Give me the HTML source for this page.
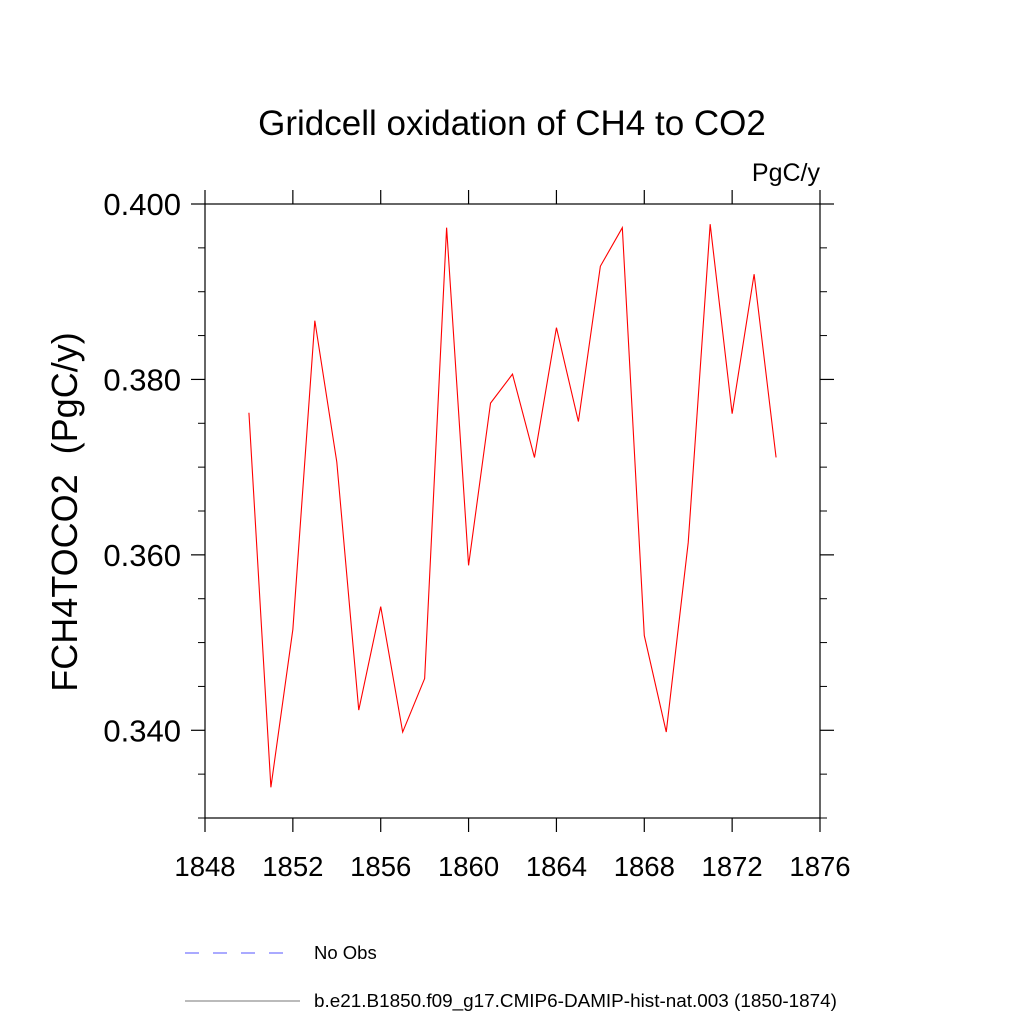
<!DOCTYPE html>
<html><head><meta charset="utf-8"><style>body{margin:0;background:#fff}svg{display:block}</style></head>
<body>
<svg id="chart" width="1024" height="1024" xmlns="http://www.w3.org/2000/svg" font-family="Liberation Sans, sans-serif">
<text x="512" y="135" font-size="35" text-anchor="middle">Gridcell oxidation of CH4 to CO2</text>
<text x="820" y="181" font-size="25" text-anchor="end">PgC/y</text>
<text transform="translate(77,512) rotate(-90)" font-size="36" text-anchor="middle" xml:space="preserve" style="white-space:pre">FCH4TOCO2  (PgC/y)</text>
<rect x="205" y="204" width="615" height="614" fill="none" stroke="#000" stroke-width="1.2"/>
<g id="axes"></g>
<polyline id="series" fill="none" stroke="#f00" stroke-width="1.1"/>
<line x1="185" y1="953" x2="295" y2="953" stroke="#55f" stroke-dasharray="14,14" stroke-width="1"/>
<text x="314" y="959" font-size="18.5">No Obs</text>
<line x1="185" y1="1001" x2="300" y2="1001" stroke="#777" stroke-width="1"/>
<text x="314" y="1007" font-size="18.9">b.e21.B1850.f09_g17.CMIP6-DAMIP-hist-nat.003 (1850-1874)</text>
</svg>
<script>
const years=[1850,1851,1852,1853,1854,1855,1856,1857,1858,1859,1860,1861,1862,1863,1864,1865,1866,1867,1868,1869,1870,1871,1872,1873,1874];
const values=[0.3762,0.3335,0.3515,0.3867,0.3706,0.3423,0.3541,0.3398,0.3459,0.3973,0.3588,0.3773,0.3806,0.3711,0.3859,0.3752,0.3929,0.3973,0.3508,0.3398,0.3614,0.3977,0.3761,0.3920,0.3711];
const xTicks=[1848,1852,1856,1860,1864,1868,1872,1876];
const yTicks=[0.340,0.360,0.380,0.400];
const yTickLabels=["0.340","0.360","0.380","0.400"];
const yMinor=[0.330,0.335,0.345,0.350,0.355,0.365,0.370,0.375,0.385,0.390,0.395];
const X0=205,X1=820,Y0=818,Y1=204;
const x=v=>X0+(v-1848)/(1876-1848)*(X1-X0);
const y=v=>Y0-(v-0.330)/(0.400-0.330)*(Y0-Y1);
const NS="http://www.w3.org/2000/svg",g=document.getElementById('axes');
function mk(t,a){const e=document.createElementNS(NS,t);for(const k in a)e.setAttribute(k,a[k]);g.appendChild(e);return e;}
xTicks.forEach(t=>{
 let l=mk('line',{x1:x(t),x2:x(t),y1:Y0,y2:Y0+14,stroke:'#000','stroke-width':1.2});
 
 
 l=mk('line',{x1:x(t),x2:x(t),y1:Y1,y2:Y1-14,stroke:'#000','stroke-width':1.2});
 
 
 const tx=mk('text',{x:x(t),y:876,'font-size':27.5,'text-anchor':'middle'});tx.textContent=t;
 
 
});
yTicks.forEach((t,i)=>{
 let l=mk('line',{x1:X0-14,x2:X0,y1:y(t),y2:y(t),stroke:'#000','stroke-width':1.2});
 
 
 l=mk('line',{x1:X1,x2:X1+14,y1:y(t),y2:y(t),stroke:'#000','stroke-width':1.2});
 
 
 const tx=mk('text',{x:181,y:y(t)+11,'font-size':31,'text-anchor':'end'});tx.textContent=yTickLabels[i];
 
 
});
yMinor.forEach(t=>{
 let l=mk('line',{x1:X0-7,x2:X0,y1:y(t),y2:y(t),stroke:'#000','stroke-width':1});
 
 
 l=mk('line',{x1:X1,x2:X1+7,y1:y(t),y2:y(t),stroke:'#000','stroke-width':1});
 
 
});
document.getElementById('series').setAttribute('points',years.map((yr,i)=>x(yr)+','+y(values[i])).join(' '));
</script>
</body></html>
